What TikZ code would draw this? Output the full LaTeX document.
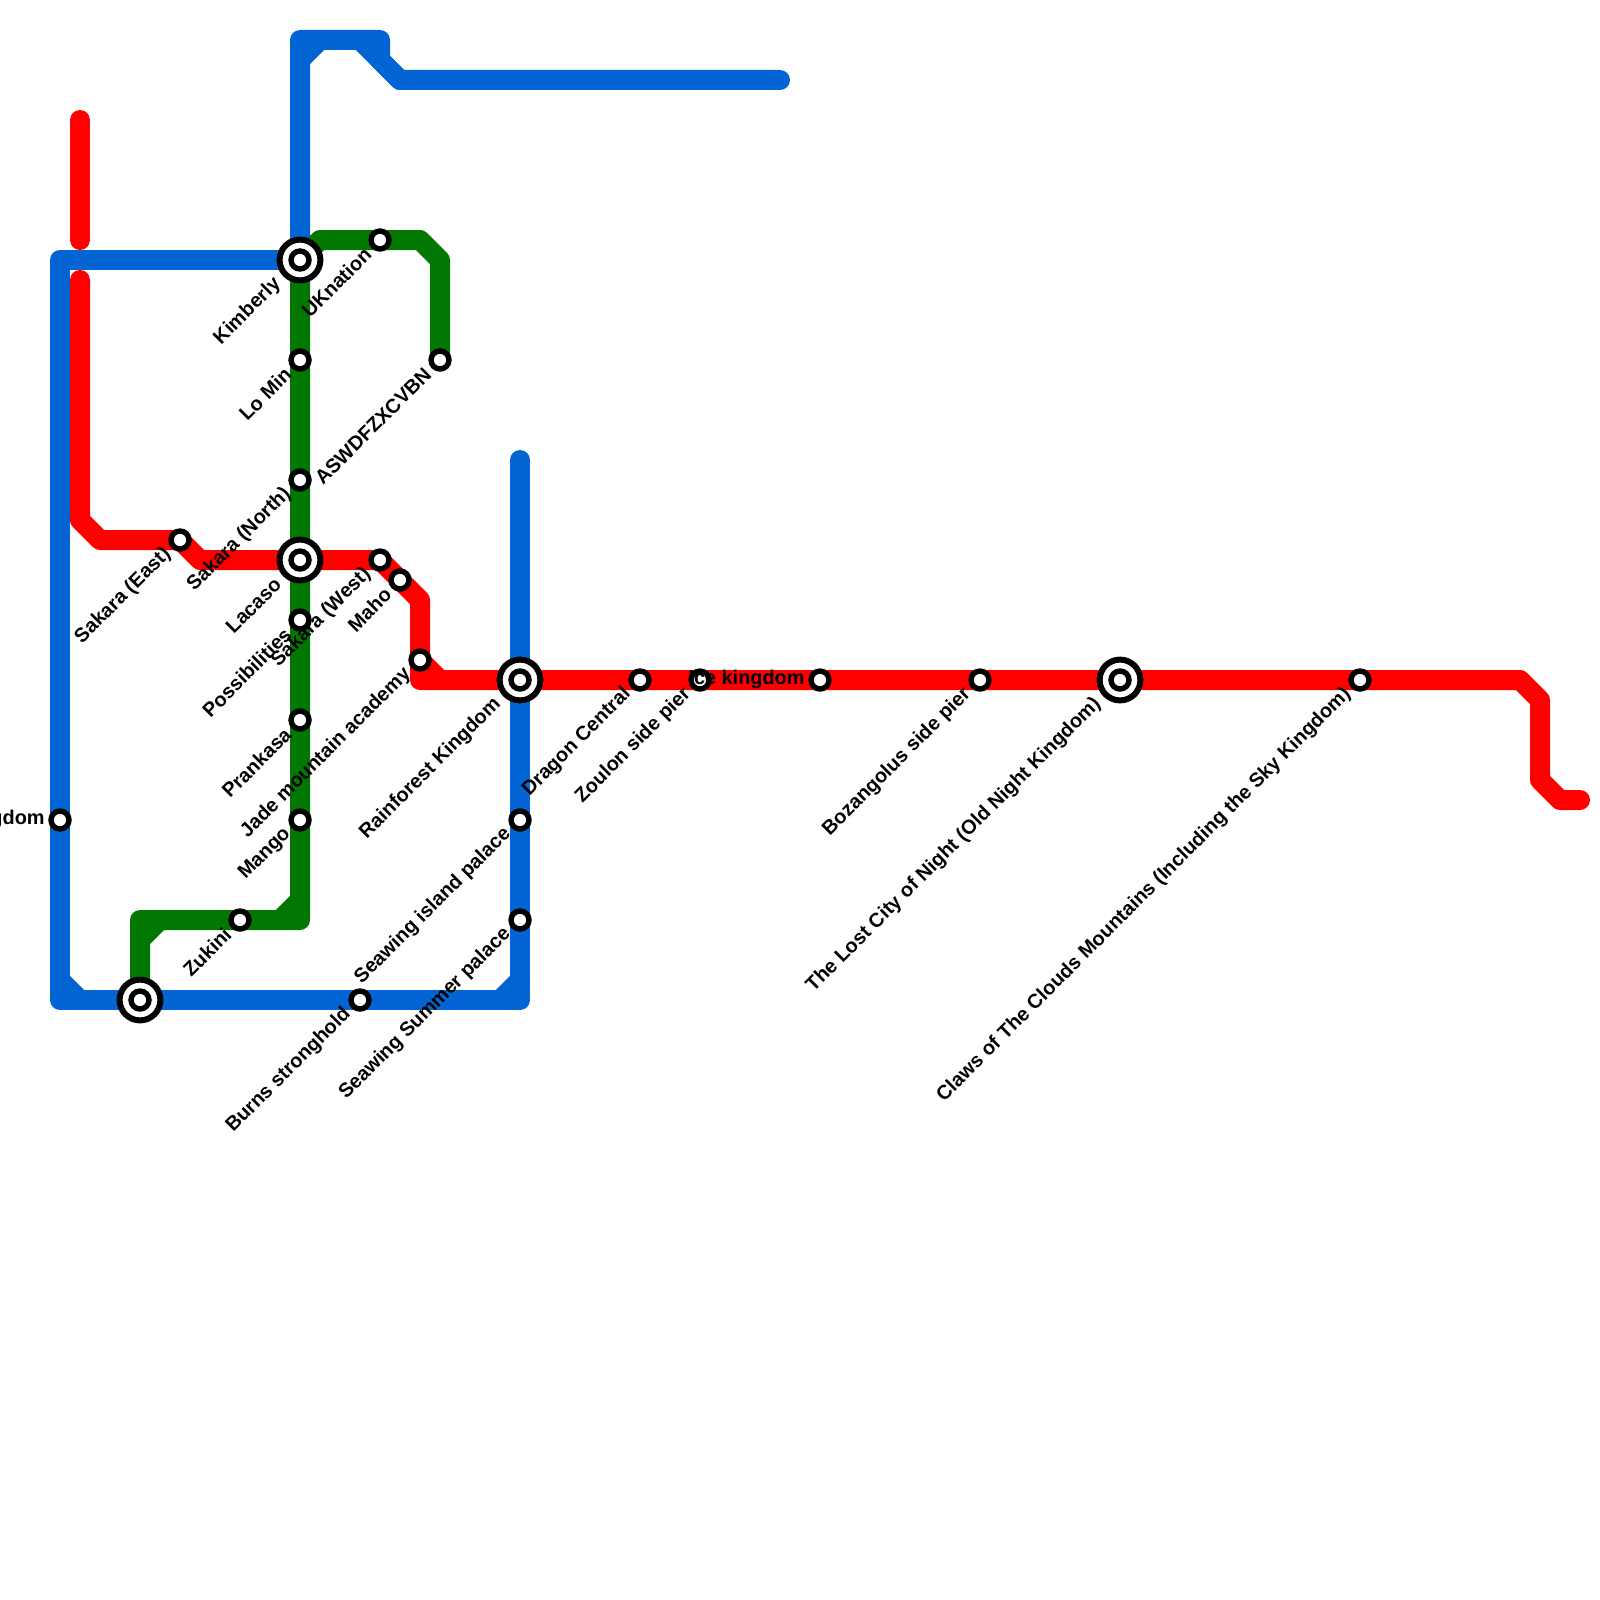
\documentclass[tikz,border=0pt]{standalone}
\usepackage{fontspec}
\setmainfont{Liberation Sans}[BoldFont={Liberation Sans Bold}]
\usetikzlibrary{backgrounds}
\definecolor{lineblue}{HTML}{0365D3}
\definecolor{linered}{HTML}{FF0000}
\definecolor{linegreen}{HTML}{027802}
\tikzset{
  metro/.style={line width=10pt,line join=round,line cap=round},
  stn/.style={circle,draw=black,fill=white,line width=2.7pt,minimum size=9pt,inner sep=0pt},
  hubring/.style={circle,draw=black,fill=white,line width=3pt,minimum size=20.4pt,inner sep=0pt},
  tag/.style={font=\bfseries\fontsize{9.95pt}{11pt}\selectfont,inner sep=0pt,text=black},
  tagd/.style={tag,rotate=45,anchor=east},
  tagh/.style={tag,anchor=east},
}
\newcommand{\metrostop}[4]{% name, x, y, label
  \node[stn] (#1) at (#2,#3) {};
  \node[tagd] (#1-label) at (#2-12,#3+11) {#4};
}
\newcommand{\metrohub}[4]{%
  \node[hubring] (#1) at (#2,#3) {};
  \node[stn] (#1-dot) at (#2,#3) {};
  \node[tagd] (#1-label) at (#2-22,#3+21) {#4};
}
\begin{document}
\begin{tikzpicture}[x=0.5pt,y=-0.5pt]
\useasboundingbox (0,0) rectangle (1600,1600);
% stations
\metrohub{kimberly}{300}{260}{Kimberly}
\metrostop{lomin}{300}{360}{Lo Min}
\metrostop{sakaranorth}{300}{480}{Sakara (North)}
\metrohub{lacaso}{300}{560}{Lacaso}
\metrostop{possibilities}{300}{620}{Possibilities}
\metrostop{prankasa}{300}{720}{Prankasa}
\metrostop{mango}{300}{820}{Mango}
\metrostop{zukini}{240}{920}{Zukini}
\metrostop{uknation}{380}{240}{UKnation}
\metrostop{aswd}{440}{360}{ASWDFZXCVBN}
\metrostop{sakaraeast}{180}{540}{Sakara (East)}
\metrostop{sakarawest}{380}{560}{Sakara (West)}
\metrostop{maho}{400}{580}{Maho}
\metrostop{jade}{420}{660}{Jade mountain academy}
\metrohub{rainforest}{520}{680}{Rainforest Kingdom}
\metrostop{dragon}{640}{680}{Dragon Central}
\metrostop{zoulon}{700}{680}{Zoulon side pier}
\node[stn] (ice) at (820,680) {};
\node[tagh] (ice-label) at (805,679) {Ice kingdom};
\metrostop{bozangolus}{980}{680}{Bozangolus side pier}
\metrohub{lostcity}{1120}{680}{The Lost City of Night (Old Night Kingdom)}
\metrostop{claws}{1360}{680}{Claws of The Clouds Mountains (Including the Sky Kingdom)}
\metrostop{seawingisland}{520}{820}{Seawing island palace}
\metrostop{seawingsummer}{520}{920}{Seawing Summer palace}
\metrostop{burns}{360}{1000}{Burns stronghold}
\node[stn] (west) at (60,820) {};
\node[tagh] (west-label) at (45,819) {gdom};
\node[hubring] (bottomhub) at (140,1000) {};
\node[stn] (bottomhub-dot) at (140,1000) {};
% waypoints
\coordinate (bA) at (780,80);
\coordinate (bB) at (400,80);
\coordinate (bC) at (360,40);
\coordinate (bD) at (300,40);
\coordinate (bE) at (300,60);
\coordinate (bF) at (320,40);
\coordinate (bG) at (380,40);
\coordinate (bH) at (380,60);
\coordinate (bI) at (60,260);
\coordinate (bJ) at (60,1000);
\coordinate (bK) at (60,980);
\coordinate (bL) at (80,1000);
\coordinate (bM) at (520,1000);
\coordinate (bN) at (500,1000);
\coordinate (bO) at (520,980);
\coordinate (bP) at (520,460);
\coordinate (rA) at (80,120);
\coordinate (rB) at (80,240);
\coordinate (rC) at (80,280);
\coordinate (rD) at (80,520);
\coordinate (rE) at (100,540);
\coordinate (rF) at (200,560);
\coordinate (rG) at (420,600);
\coordinate (rH) at (420,680);
\coordinate (rI) at (440,680);
\coordinate (rJ) at (1520,680);
\coordinate (rK) at (1540,700);
\coordinate (rL) at (1540,780);
\coordinate (rM) at (1560,800);
\coordinate (rN) at (1580,800);
\coordinate (gA) at (140,920);
\coordinate (gB) at (300,920);
\coordinate (gC) at (140,940);
\coordinate (gD) at (160,920);
\coordinate (gE) at (280,920);
\coordinate (gF) at (300,900);
\coordinate (gG) at (320,240);
\coordinate (gH) at (420,240);
\coordinate (gI) at (440,260);
\begin{scope}[on background layer]
  % blue
  \draw[metro,lineblue] (bA) -- (bB) -- (bC) -- (bD) -- (kimberly.center);
  \draw[metro,lineblue] (bE) -- (bF);
  \draw[metro,lineblue] (bC) -- (bG) -- (bH) -- (bB);
  \draw[metro,lineblue] (kimberly.center) -- (bI) -- (bJ) -- (bM) -- (bP);
  \draw[metro,lineblue] (bK) -- (bL);
  \draw[metro,lineblue] (bN) -- (bO);
  % red
  \draw[metro,linered] (rA) -- (rB);
  \draw[metro,linered] (rC) -- (rD) -- (rE) -- (sakaraeast.center) -- (rF) -- (lacaso.center) -- (sakarawest.center) -- (rG) -- (rH) -- (rainforest.center) -- (rJ) -- (rK) -- (rL) -- (rM) -- (rN);
  \draw[metro,linered] (jade.center) -- (rI);
  % green
  \draw[metro,linegreen] (bottomhub.center) -- (gA) -- (gB) -- (kimberly.center) -- (gG) -- (gH) -- (gI) -- (aswd.center);
  \draw[metro,linegreen] (gC) -- (gD);
  \draw[metro,linegreen] (gE) -- (gF);
\end{scope}
\end{tikzpicture}
\end{document}
